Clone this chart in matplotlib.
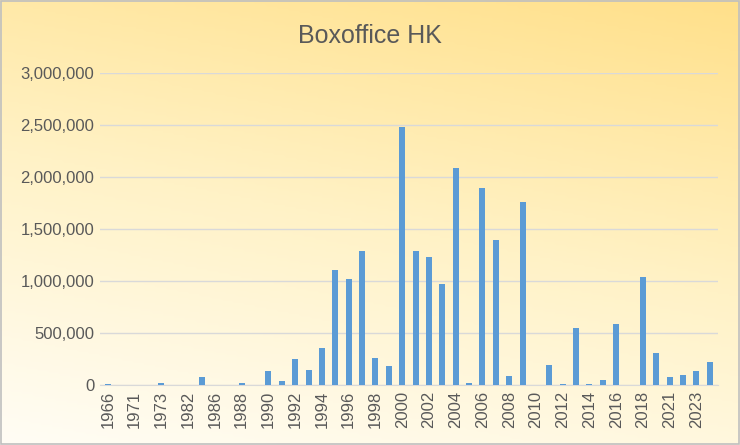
import matplotlib
matplotlib.use("Agg")
import matplotlib.pyplot as plt
import numpy as np
from matplotlib.colors import LinearSegmentedColormap
from matplotlib.patches import Rectangle

years = ["1966","1970","1971","1972","1973","1977","1982","1984","1986","1987","1988","1989",
         "1990","1991","1992","1993","1994","1995","1996","1997","1998","1999","2000","2001",
         "2002","2003","2004","2005","2006","2007","2008","2009","2010","2011","2012","2013",
         "2014","2015","2016","2017","2018","2019","2021","2022","2023","2024"]
values = [10000,0,0,0,20000,0,0,80000,0,0,20000,0,
          130000,35000,245000,145000,355000,1110000,1020000,1290000,260000,185000,2480000,1285000,
          1235000,975000,2085000,20000,1900000,1400000,90000,1760000,0,190000,10000,545000,
          10000,50000,585000,0,1040000,310000,80000,100000,130000,220000]

plt.rcParams['font.family'] = ['Liberation Sans', 'DejaVu Sans']
fig = plt.figure(figsize=(7.4, 4.45), dpi=100)
bg = fig.add_axes([0, 0, 1, 1], zorder=-10)
yy, xx = np.mgrid[0:1:200j, 0:1:200j]
t = np.clip(yy * 0.75 + xx * 0.25, 0, 1)
cmap = LinearSegmentedColormap.from_list("g", ["#fffdf5", "#fff2c6", "#ffe08a"])
bg.imshow(t, cmap=cmap, origin="lower", aspect="auto", extent=[0, 1, 0, 1])
bg.add_patch(Rectangle((0.001, 0.002), 0.997, 0.995, fill=False, ec="#bfbfbf", lw=1.2,
                       transform=bg.transAxes))
bg.set_xlim(0, 1); bg.set_ylim(0, 1)
bg.axis("off")

ax = fig.add_axes([0.135, 0.135, 0.835, 0.7])
ax.patch.set_alpha(0)
x = np.arange(len(years))
ax.bar(x, values, width=0.45, color="#5b9bd5", zorder=3)
ax.set_xlim(-0.6, len(years) - 0.4)
ax.set_ylim(0, 3000000)
ax.set_yticks(np.arange(0, 3000001, 500000))
ax.set_yticklabels([f"{v:,}" for v in range(0, 3000001, 500000)], fontsize=12, color="#595959")
ax.set_xticks(x[::2])
ax.set_xticklabels(years[::2], rotation=90, fontsize=12, color="#595959")
ax.grid(axis="y", color="#d9d9d9", lw=1, zorder=0)
for s in ["top", "right", "left"]:
    ax.spines[s].set_visible(False)
ax.spines["bottom"].set_color("#d9d9d9")
ax.tick_params(length=0, pad=4)
fig.text(0.5, 0.92, "Boxoffice HK", ha="center", va="center", fontsize=18, color="#595959")
fig.savefig("out.png", dpi=100)
